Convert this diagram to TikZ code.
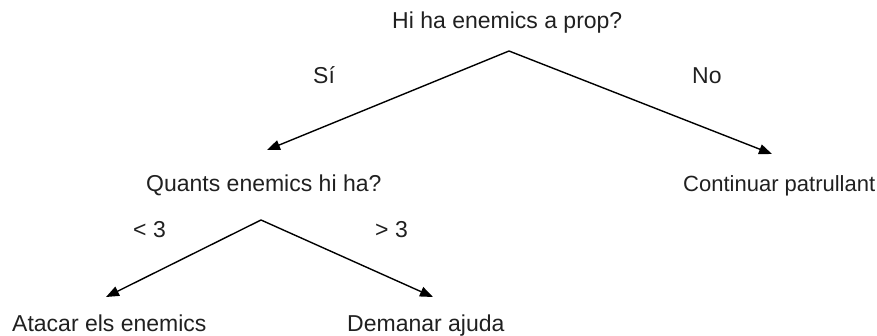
\documentclass[tikz,border=0pt]{standalone}
\usepackage{fontspec}
\setmainfont{Liberation Sans}
\usetikzlibrary{arrows.meta}
\definecolor{txt}{HTML}{202020}
\begin{document}
\begin{tikzpicture}[x=1pt,y=-1pt,
  lbl/.style={anchor=base west,inner sep=0pt,text=txt,font=\fontsize{23}{27}\selectfont},
  arr/.style={-{Triangle[length=13pt,width=10pt]},line width=1.4pt,black}]
\useasboundingbox (0,0) rectangle (877,336);
\node[lbl] (q1) at (392,29) {Hi ha enemics a prop?};
\node[lbl] (si) at (313,84) {Sí};
\node[lbl] (no) at (692,84) {No};
\node[lbl] (q2) at (146,192) {Quants enemics hi ha?};
\node[lbl,font=\fontsize{22}{26}\selectfont] (cont) at (683,192) {Continuar patrullant};
\node[lbl] (lt) at (133,238) {< 3};
\node[lbl] (gt) at (375,238) {> 3};
\node[lbl] (atac) at (12,331) {Atacar els enemics};
\node[lbl] (dem) at (347,331) {Demanar ajuda};
\coordinate (a1) at (509,51);
\coordinate (t1) at (267,150);
\coordinate (t2) at (772,154);
\coordinate (a2) at (261,220);
\coordinate (t3) at (106,297);
\coordinate (t4) at (433,297);
\draw[arr] (a1) -- (t1);
\draw[arr] (a1) -- (t2);
\draw[arr] (a2) -- (t3);
\draw[arr] (a2) -- (t4);
\end{tikzpicture}
\end{document}
